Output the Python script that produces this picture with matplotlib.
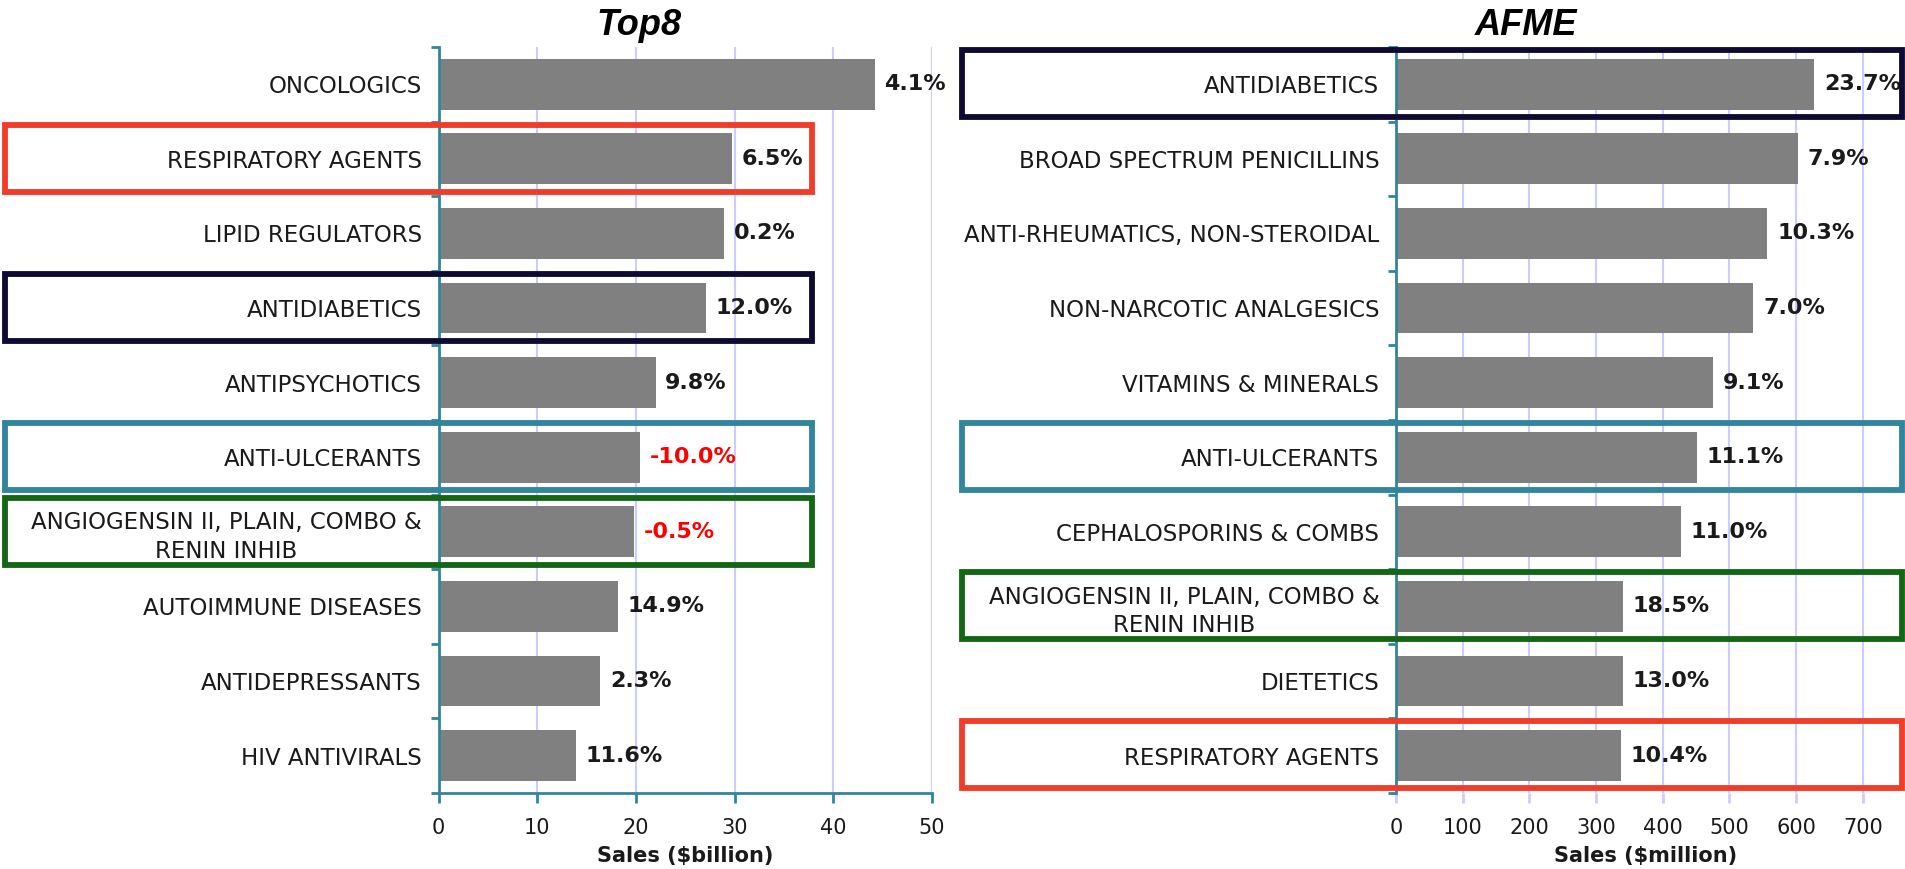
import numpy as np
import matplotlib
matplotlib.use("Agg")
import matplotlib.pyplot as plt
from matplotlib.patches import Rectangle

ANGIO = "ANGIOGENSIN II, PLAIN, COMBO &\nRENIN INHIB"

# Top8 markets, sales in $billion and growth in %
top8_classes = ["ONCOLOGICS", "RESPIRATORY AGENTS", "LIPID REGULATORS",
                "ANTIDIABETICS", "ANTIPSYCHOTICS", "ANTI-ULCERANTS", ANGIO,
                "AUTOIMMUNE DISEASES", "ANTIDEPRESSANTS", "HIV ANTIVIRALS"]
top8_sales = [44.2, 29.7, 28.9, 27.1, 22.0, 20.4, 19.8, 18.2, 16.4, 13.9]
top8_growth = [4.1, 6.5, 0.2, 12.0, 9.8, -10.0, -0.5, 14.9, 2.3, 11.6]
top8_ticks = [0, 10, 20, 30, 40, 50]

# AFME, sales in $million and growth in %
afme_classes = ["ANTIDIABETICS", "BROAD SPECTRUM PENICILLINS",
                "ANTI-RHEUMATICS, NON-STEROIDAL", "NON-NARCOTIC ANALGESICS",
                "VITAMINS & MINERALS", "ANTI-ULCERANTS", "CEPHALOSPORINS & COMBS",
                ANGIO, "DIETETICS", "RESPIRATORY AGENTS"]
afme_sales = [627, 603, 557, 536, 476, 451, 427, 340, 340, 337]
afme_growth = [23.7, 7.9, 10.3, 7.0, 9.1, 11.1, 11.0, 18.5, 13.0, 10.4]
afme_ticks = [0, 100, 200, 300, 400, 500, 600, 700]

teal = "#31859C"
grid_color = "#CCCCFF"
box_colors = {"RESPIRATORY AGENTS": "#F03C28",
              "ANTIDIABETICS": "#0E0A33",
              "ANTI-ULCERANTS": "#31859C",
              ANGIO: "#136613"}


def plot_panel(ax, classes, sales, growth, ticks, xmax, xlabel, box_x,
               bottom_spine=True):
    y = np.arange(len(classes))
    ax.barh(y, sales, height=0.68, color="#808080", zorder=2)
    ax.set_xlim(0, xmax)
    ax.set_ylim(len(classes) - 0.5, -0.5)
    ax.set_xticks(ticks)
    ax.set_xticklabels([str(t) for t in ticks], fontsize=15, color="#1a1a1a")

    # tick marks between categories, labels at the centres
    ax.set_yticks(np.arange(len(classes) + 1) - 0.5)
    ax.set_yticklabels([])
    ax.set_yticks(y, minor=True)
    ax.set_yticklabels(classes, minor=True, fontsize=16.5, color="#1a1a1a")
    for lab in ax.get_yticklabels(minor=True):
        lab.set_multialignment("center")
        lab.set_linespacing(1.3)
    ax.tick_params(axis="y", which="major", length=6, width=2, color=teal)
    ax.tick_params(axis="y", which="minor", length=0, pad=12)
    xtick_color = teal if bottom_spine else grid_color
    ax.tick_params(axis="x", length=7, width=2, color=xtick_color, pad=11)

    ax.grid(axis="x", color=grid_color, linewidth=1.5, zorder=0)
    ax.set_axisbelow(True)
    for side in ["top", "right"]:
        ax.spines[side].set_visible(False)
    ax.spines["left"].set_color(teal)
    ax.spines["left"].set_linewidth(2)
    if bottom_spine:
        ax.spines["bottom"].set_color(teal)
        ax.spines["bottom"].set_linewidth(2)
    else:
        ax.spines["bottom"].set_visible(False)

    ax.set_xlabel(xlabel, fontsize=15, fontweight="bold", color="#1a1a1a",
                  labelpad=6)

    for i, (s, g) in enumerate(zip(sales, growth)):
        ax.annotate(f"{g:.1f}%", (s, i), xytext=(7, 0),
                    textcoords="offset points", ha="left", va="center",
                    fontsize=16, fontweight="bold",
                    color="red" if g < 0 else "#1a1a1a")

    # highlight boxes round the shared therapy classes
    for i, c in enumerate(classes):
        if c in box_colors:
            ax.add_patch(Rectangle((box_x[0], i - 0.46), box_x[1] - box_x[0],
                                   0.9, fill=False, edgecolor=box_colors[c],
                                   linewidth=4.2, clip_on=False, zorder=5))


fig = plt.figure(figsize=(19.05, 8.69), dpi=100)
ax1 = fig.add_axes([0.2302, 0.0875, 0.2590, 0.8585])
ax2 = fig.add_axes([0.7328, 0.0875, 0.2625, 0.8585])

plot_panel(ax1, top8_classes, top8_sales, top8_growth, top8_ticks, 50,
           "Sales ($billion)", (-43.9, 37.8))
plot_panel(ax2, afme_classes, afme_sales, afme_growth, afme_ticks, 750,
           "Sales ($million)", (-651, 759), bottom_spine=False)

fig.text(0.3354, 0.971, "Top8", ha="center", va="center", fontsize=26,
         fontweight="bold", fontstyle="italic", family=["Liberation Sans"])
fig.text(0.801, 0.971, "AFME", ha="center", va="center", fontsize=26,
         fontweight="bold", fontstyle="italic", family=["Liberation Sans"])

fig.savefig("out.png", dpi=100)
